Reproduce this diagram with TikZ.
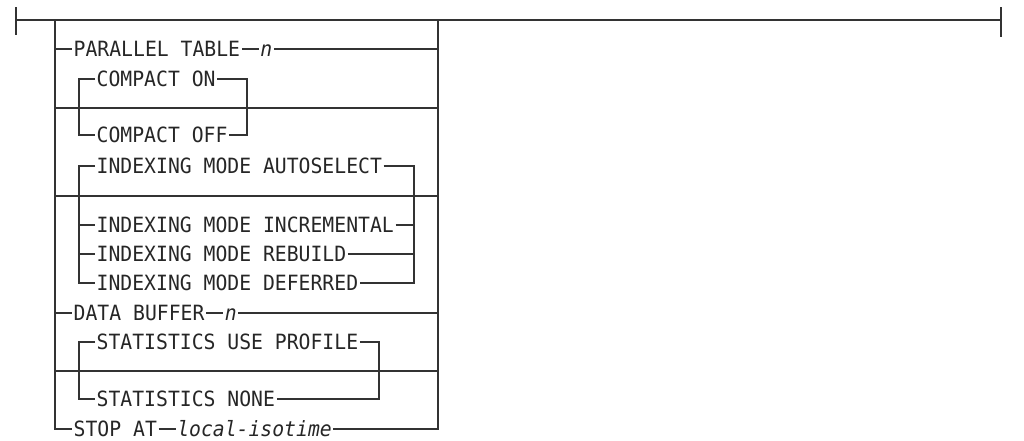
\documentclass[tikz,border=0pt]{standalone}
\usepackage{fontspec}
\setmonofont[FakeStretch=0.94]{DejaVu Sans Mono}
\usetikzlibrary{positioning}

\begin{document}
\begin{tikzpicture}[
    x=1pt, y=-1pt,
    node distance=17pt,
    rail/.style={draw=black!80, line width=1.1pt},
    kw/.style={font=\fontsize{21}{22}\selectfont\ttfamily, text=black!85, inner xsep=1.5pt, inner ysep=0pt, text height=15.3pt, text depth=0pt, anchor=west},
    var/.style={kw, font=\fontsize{21}{22}\selectfont\ttfamily\itshape},
]
\useasboundingbox (0,0) rectangle (1024,440);

% Main line
\coordinate (begin) at (16,20);
\coordinate (end) at (1001,20);
\draw[rail] (begin) -- (end);
\draw[rail] ([yshift=13pt]begin) -- ([yshift=-15pt]begin);
\draw[rail] ([yshift=13pt]end) -- ([yshift=-17pt]end);

% Outer loop
\coordinate (lt) at (55,20);
\coordinate (rt) at (438,20);
\coordinate (gl) at (79,20);

% Keywords
\node[kw] (par) at (72,49) {PARALLEL TABLE};
\node[var, right=of par] (parn) {n};
\node[kw] (con) at (95,79) {COMPACT ON};
\node[kw] (coff) at (95,135) {COMPACT OFF};
\node[kw] (iauto) at (95,166) {INDEXING MODE AUTOSELECT};
\node[kw] (iinc) at (95,225) {INDEXING MODE INCREMENTAL};
\node[kw] (ireb) at (95,254) {INDEXING MODE REBUILD};
\node[kw] (idef) at (95,283) {INDEXING MODE DEFERRED};
\node[kw] (buf) at (72,313) {DATA BUFFER};
\node[var, right=of buf] (bufn) {n};
\node[kw] (sprof) at (95,342) {STATISTICS USE PROFILE};
\node[kw] (snone) at (95,399) {STATISTICS NONE};
\node[kw] (stop) at (72,429) {STOP AT};
\node[var, right=of stop] (stopt) {local-isotime};

% Bypass lines
\coordinate (cby) at (0,108);
\coordinate (iby) at (0,196);
\coordinate (sby) at (0,371);
\draw[rail] (cby -| lt) -- (cby -| rt);
\draw[rail] (iby -| lt) -- (iby -| rt);
\draw[rail] (sby -| lt) -- (sby -| rt);

% Outer rows
\draw[rail] (lt) -- (stop.west -| lt) -- (stop.west);
\draw[rail] (stop.east) -- (stopt.west);
\draw[rail] (stopt.east) -- (stopt.east -| rt) -- (rt);
\draw[rail] (par.west -| lt) -- (par.west);
\draw[rail] (par.east) -- (parn.west);
\draw[rail] (parn.east) -- (parn.east -| rt);
\draw[rail] (buf.west -| lt) -- (buf.west);
\draw[rail] (buf.east) -- (bufn.west);
\draw[rail] (bufn.east) -- (bufn.east -| rt);

% COMPACT group
\coordinate (cr) at (247,79);
\draw[rail] (con.west) -- (con.west -| gl) -- (coff.west -| gl) -- (coff.west);
\draw[rail] (con.east) -- (cr) -- (coff.east -| cr) -- (coff.east);

% INDEXING MODE group
\coordinate (ir) at (414,166);
\draw[rail] (iauto.west) -- (iauto.west -| gl) -- (idef.west -| gl) -- (idef.west);
\draw[rail] (iauto.east) -- (ir) -- (idef.east -| ir) -- (idef.east);
\foreach \n in {iinc, ireb} {
    \draw[rail] (\n.west -| gl) -- (\n.west);
    \draw[rail] (\n.east) -- (\n.east -| ir);
}

% STATISTICS group
\coordinate (sr) at (379,342);
\draw[rail] (sprof.west) -- (sprof.west -| gl) -- (snone.west -| gl) -- (snone.west);
\draw[rail] (sprof.east) -- (sr) -- (snone.east -| sr) -- (snone.east);

\end{tikzpicture}
\end{document}
